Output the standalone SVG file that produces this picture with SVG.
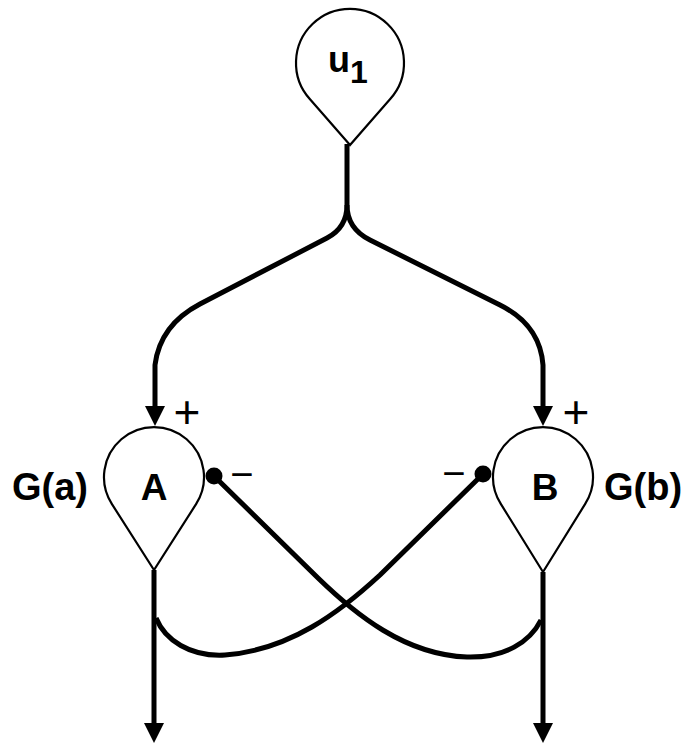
<svg xmlns="http://www.w3.org/2000/svg" width="697" height="746" viewBox="0 0 697 746">
<defs>
<style>
.node{fill:#fff;stroke:#000;stroke-width:2.2;stroke-linejoin:miter}
.conn{fill:none;stroke:#000;stroke-width:5;stroke-linecap:butt;stroke-linejoin:round}
.lbl{font-family:"Liberation Sans",Arial,Helvetica,sans-serif;font-weight:bold;fill:#000}
.sign{font-family:"Liberation Sans",Arial,Helvetica,sans-serif;font-weight:normal;fill:#000;text-anchor:middle}
</style>
<marker id="arr" viewBox="0 0 20 20" markerWidth="20" markerHeight="20" markerUnits="userSpaceOnUse" refX="2" refY="10" orient="auto">
<path d="M0,0 L20,10 L0,20 z" fill="#000"/>
</marker>
</defs>
<rect width="697" height="746" fill="#fff"/>
<g id="connectors">
<path class="conn" d="M347,144 L347,205 Q347,227.5 327,238 L200,304 Q160,325 155,365 L155,408" marker-end="url(#arr)"/>
<path class="conn" d="M347,205 Q347,228.5 370,240 L500,305 Q540,325 543,365 L543,408" marker-end="url(#arr)"/>
<path class="conn" d="M154,570 L154,725" marker-end="url(#arr)"/>
<path class="conn" d="M543,572 L543,725" marker-end="url(#arr)"/>
<path class="conn" d="M483,474 L380,575 C340,612 290,650 225,655 C190,657 165,640 156,618"/>
<path class="conn" d="M214,476 L318,578 C355,614 405,655 467,657 C505,658 530,642 541,620"/>
<circle cx="214" cy="476" r="8.5" fill="#000"/>
<circle cx="483" cy="474" r="8.5" fill="#000"/>
</g>
<g id="u1">
<path class="node" d="M350,145 L309.8,99 A54,54 0 1 1 390.2,99 Z"/>
<text class="lbl" x="328" y="72" font-size="36">u<tspan font-size="32" dy="11">1</tspan></text>
</g>
<g id="A">
<path class="node" d="M154,570 L111.8,503.9 A50,50 0 1 1 196.2,503.9 Z"/>
<text class="lbl" x="154" y="500" font-size="37" text-anchor="middle">A</text>
<text class="lbl" x="12" y="500" font-size="38">G(a)</text>
<text class="sign" x="187" y="428" font-size="46">+</text>
<text class="sign" x="242" y="488" font-size="40">−</text>
</g>
<g id="B">
<path class="node" d="M543,572 L500.8,503.9 A50,50 0 1 1 585.2,503.9 Z"/>
<text class="lbl" x="545" y="500" font-size="37" text-anchor="middle">B</text>
<text class="lbl" x="604" y="500" font-size="38">G(b)</text>
<text class="sign" x="576" y="428" font-size="46">+</text>
<text class="sign" x="454" y="487" font-size="40">−</text>
</g>
</svg>
